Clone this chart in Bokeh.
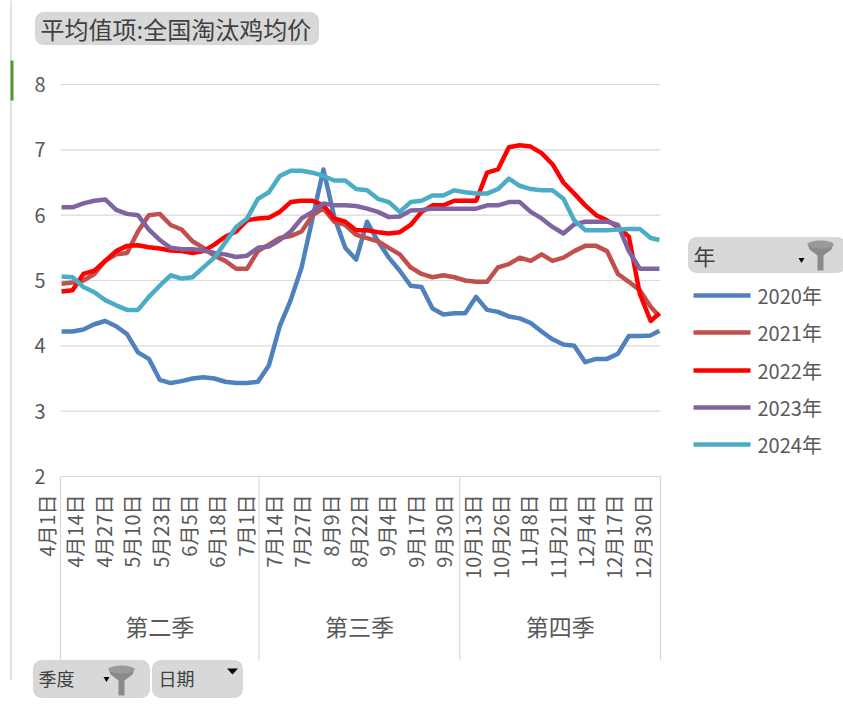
import re
from math import pi
import pandas as pd
from bokeh.plotting import figure
from bokeh.models import Range1d, BoxAnnotation
from bokeh.core.properties import value
from bokeh.embed import file_html
from bokeh.resources import INLINE

# ---------------- data ----------------
sample_dates = ["04-01", "04-06", "04-11", "04-16", "04-21", "04-26", "05-01", "05-06",
                "05-11", "05-16", "05-21", "05-26", "05-31", "06-05", "06-10", "06-15",
                "06-20", "06-25", "06-30", "07-05", "07-10", "07-15", "07-20", "07-25",
                "07-30", "08-04", "08-09", "08-14", "08-19", "08-24", "08-29", "09-03",
                "09-08", "09-13", "09-18", "09-23", "09-28", "10-03", "10-08", "10-13",
                "10-18", "10-23", "10-28", "11-02", "11-07", "11-12", "11-17", "11-22",
                "11-27", "12-02", "12-07", "12-12", "12-17", "12-22", "12-27", "12-31"]

price_2020 = [4.22, 4.22, 4.25, 4.33, 4.38, 4.30, 4.18, 3.90, 3.80, 3.48, 3.43, 3.46, 3.50, 3.52,
              3.50, 3.45, 3.43, 3.43, 3.45, 3.70, 4.30, 4.70, 5.20, 5.95, 6.70, 5.97, 5.50, 5.32,
              5.90, 5.60, 5.35, 5.15, 4.92, 4.90, 4.57, 4.48, 4.50, 4.50, 4.75, 4.55, 4.52, 4.45,
              4.42, 4.35, 4.22, 4.10, 4.02, 4.00, 3.75, 3.80, 3.80, 3.88, 4.15, 4.15, 4.16, 4.23]
price_2021 = [4.95, 4.97, 5.00, 5.10, 5.30, 5.40, 5.42, 5.75, 6.00, 6.02, 5.85, 5.78, 5.60, 5.50,
              5.38, 5.30, 5.18, 5.18, 5.45, 5.55, 5.65, 5.68, 5.75, 6.00, 6.10, 5.90, 5.85, 5.70,
              5.65, 5.60, 5.50, 5.40, 5.20, 5.10, 5.05, 5.08, 5.05, 5.00, 4.98, 4.98, 5.20, 5.25,
              5.35, 5.30, 5.40, 5.30, 5.35, 5.45, 5.53, 5.53, 5.45, 5.10, 4.98, 4.85, 4.60, 4.45]
price_2022 = [4.83, 4.85, 5.10, 5.15, 5.30, 5.45, 5.53, 5.54, 5.51, 5.49, 5.46, 5.45, 5.42, 5.45,
              5.55, 5.67, 5.75, 5.92, 5.95, 5.96, 6.05, 6.20, 6.22, 6.22, 6.15, 5.95, 5.90, 5.77,
              5.77, 5.74, 5.72, 5.74, 5.85, 6.05, 6.15, 6.15, 6.22, 6.22, 6.22, 6.65, 6.70, 7.04,
              7.07, 7.05, 6.95, 6.78, 6.50, 6.33, 6.15, 6.00, 5.92, 5.82, 5.67, 4.80, 4.38, 4.50]
price_2023 = [6.12, 6.12, 6.18, 6.22, 6.24, 6.08, 6.02, 6.00, 5.78, 5.62, 5.50, 5.48, 5.48, 5.46,
              5.42, 5.40, 5.36, 5.38, 5.50, 5.52, 5.62, 5.75, 5.95, 6.05, 6.18, 6.15, 6.15, 6.14,
              6.10, 6.05, 5.97, 5.98, 6.07, 6.08, 6.10, 6.10, 6.10, 6.10, 6.10, 6.15, 6.15, 6.20,
              6.20, 6.05, 5.95, 5.82, 5.72, 5.86, 5.90, 5.90, 5.90, 5.85, 5.45, 5.18, 5.18, 5.18]
price_2024 = [5.06, 5.05, 4.90, 4.82, 4.70, 4.62, 4.55, 4.55, 4.75, 4.92, 5.08, 5.03, 5.05, 5.20,
              5.35, 5.58, 5.82, 5.95, 6.25, 6.35, 6.60, 6.68, 6.68, 6.65, 6.60, 6.53, 6.53, 6.40,
              6.38, 6.25, 6.20, 6.05, 6.20, 6.22, 6.30, 6.30, 6.38, 6.35, 6.33, 6.33, 6.40, 6.56,
              6.45, 6.40, 6.38, 6.38, 6.25, 5.92, 5.77, 5.77, 5.77, 5.78, 5.79, 5.79, 5.65, 5.62]

years = ["2020年", "2021年", "2022年", "2023年", "2024年"]
series = [price_2020, price_2021, price_2022, price_2023, price_2024]
colors = ["#4F81BD", "#C0504D", "#FF0000", "#8064A2", "#4BACC6"]

tick_labels = ["4月1日", "4月14日", "4月27日", "5月10日", "5月23日", "6月5日", "6月18日", "7月1日",
               "7月14日", "7月27日", "8月9日", "8月22日", "9月4日", "9月17日", "9月30日", "10月13日",
               "10月26日", "11月8日", "11月21日", "12月4日", "12月17日", "12月30日"]
y_ticks = [2, 3, 4, 5, 6, 7, 8]
quarters = ["第二季", "第三季", "第四季"]
quarter_first = ["04-01", "07-01", "10-01"]
quarter_last = ["06-30", "09-30", "12-31"]
title_text = "平均值项:全国淘汰鸡均价"

# ---------------- helpers ----------------
BASE = pd.Timestamp("2021-04-01")


def day_of(mmdd):
    return (pd.Timestamp("2021-" + mmdd) - BASE).days


def day_of_label(lbl):
    m, d = re.match(r"(\d+)月(\d+)日", lbl).groups()
    return day_of("%02d-%02d" % (int(m), int(d)))


x_days = [day_of(d) for d in sample_dates]
N_DAYS = day_of("12-31") + 1

W, H = 843, 705
PL, PR, PT, PB = 60, 660, 84, 476          # plot area in page pixels
XS = (PR - PL) / N_DAYS
YS = (PB - PT) / (y_ticks[-1] - y_ticks[0])


def sx(X):  # page pixel -> data x
    return -0.5 + (X - PL) / XS


def sy(Y):  # page pixel -> data y
    return y_ticks[-1] - (Y - PT) / YS


FONT = value("Noto Sans CJK SC")
GREY = "#595959"
GRID = "#d9d9d9"

p = figure(frame_width=W, frame_height=H, min_border=0,
           x_range=Range1d(sx(0), sx(W)), y_range=Range1d(sy(H), sy(0)),
           output_backend="svg", toolbar_location=None,
           background_fill_color="white", border_fill_color="white",
           outline_line_color=None)
p.xaxis.visible = False
p.yaxis.visible = False
p.grid.visible = False

x0, x1 = -0.5, N_DAYS - 0.5

# horizontal gridlines (the one at 2 is the category axis line)
p.segment(x0=[x0] * len(y_ticks), x1=[x1] * len(y_ticks), y0=y_ticks, y1=y_ticks,
          line_color=GRID, line_width=1.2)
# quarter separators
bounds = [day_of(q) - 0.5 for q in quarter_first] + [day_of(quarter_last[-1]) + 0.5]
p.segment(x0=bounds, x1=bounds, y0=[y_ticks[0]] * len(bounds), y1=[sy(660)] * len(bounds),
          line_color=GRID, line_width=1.2)

# y tick labels
p.text(x=[x0] * len(y_ticks), y=y_ticks, text=[str(t) for t in y_ticks], x_offset=-15,
       text_align="right", text_baseline="middle", text_font=FONT,
       text_font_size=value("20px"), text_color=GREY)

# series
for vals, c in zip(series, colors):
    p.line(x_days, vals, line_width=4.5, color=c, line_join="round")

# date labels (rotated)
p.text(x=[day_of_label(l) for l in tick_labels], y=[sy(494)] * len(tick_labels),
       text=tick_labels, angle=pi / 2, x_offset=-15,
       text_align="right", text_baseline="middle", text_font=FONT,
       text_font_size=value("20px"), text_color=GREY)

# quarter labels
p.text(x=[(day_of(a) + day_of(b)) / 2 for a, b in zip(quarter_first, quarter_last)],
       y=[sy(625)] * len(quarters), text=quarters, text_align="center",
       text_baseline="middle", text_font=FONT, text_font_size=value("23px"),
       text_color=GREY)

# legend (drawn by hand, beside the plot)
ly = [295, 332, 370, 407, 444]
p.segment(x0=[sx(693)] * 5, x1=[sx(750)] * 5, y0=[sy(v) for v in ly], y1=[sy(v) for v in ly],
          line_color=colors, line_width=4.5)
p.text(x=[sx(757)] * 5, y=[sy(v) for v in ly], text=years, text_align="left",
       text_baseline="middle", text_font=FONT, text_font_size=value("20px"),
       text_color=GREY)


# pivot field buttons
def button(xa, xb, ya, yb):
    p.add_layout(BoxAnnotation(left=sx(xa), right=sx(xb), top=sy(ya), bottom=sy(yb),
                               fill_color="#d8d8d8", fill_alpha=1, line_color="#a6a6a6",
                               line_width=1, border_radius=8, level="underlay"))


def btn_text(x, y, t, size):
    p.text(x=[sx(x)], y=[sy(y)], text=[t], text_align="left", text_baseline="middle",
           text_font=FONT, text_font_size=value(size), text_color="#404040")


def arrow(cx, cy, w, h):
    p.patch([sx(cx - w / 2), sx(cx + w / 2), sx(cx)],
            [sy(cy - h / 2), sy(cy - h / 2), sy(cy + h / 2)],
            fill_color="black", line_color=None)


def funnel(cx, ty, w=26, h=30):
    xs = [cx - w / 2, cx - w / 2 + 2, cx - 3, cx - 3, cx + 3, cx + 3, cx + w / 2 - 2, cx + w / 2]
    ys = [ty + 3, ty + 9, ty + h * 0.5, ty + h, ty + h, ty + h * 0.5, ty + 9, ty + 3]
    p.patch([sx(v) for v in xs], [sy(v) for v in ys], fill_color="#8a8a8a", line_color=None)
    p.ellipse(x=[sx(cx)], y=[sy(ty + 4)], width=w / XS, height=8 / YS,
              fill_color="#9a9a9a", line_color=None)


button(35, 318, 12, 44)
btn_text(40, 28, title_text, "24px")

button(688, 845, 237, 272)
btn_text(693, 254, "年", "22px")
arrow(801, 260, 6, 5)
funnel(820, 240)

button(33, 149, 660, 697)
btn_text(38, 677, "季度", "18px")
arrow(106, 679, 6, 5)
funnel(121, 665)

button(152, 242, 660, 697)
btn_text(158, 677, "日期", "18px")
arrow(232, 671, 11, 6)

# window edge decorations
p.quad(left=[sx(10)], right=[sx(11)], top=[sy(0)], bottom=[sy(680)],
       fill_color="#c8c8c8", line_color=None)
p.quad(left=[sx(10)], right=[sx(13)], top=[sy(60)], bottom=[sy(100)],
       fill_color="#4e9a2e", line_color=None)

open("out.html", "w").write(file_html(p, INLINE))
